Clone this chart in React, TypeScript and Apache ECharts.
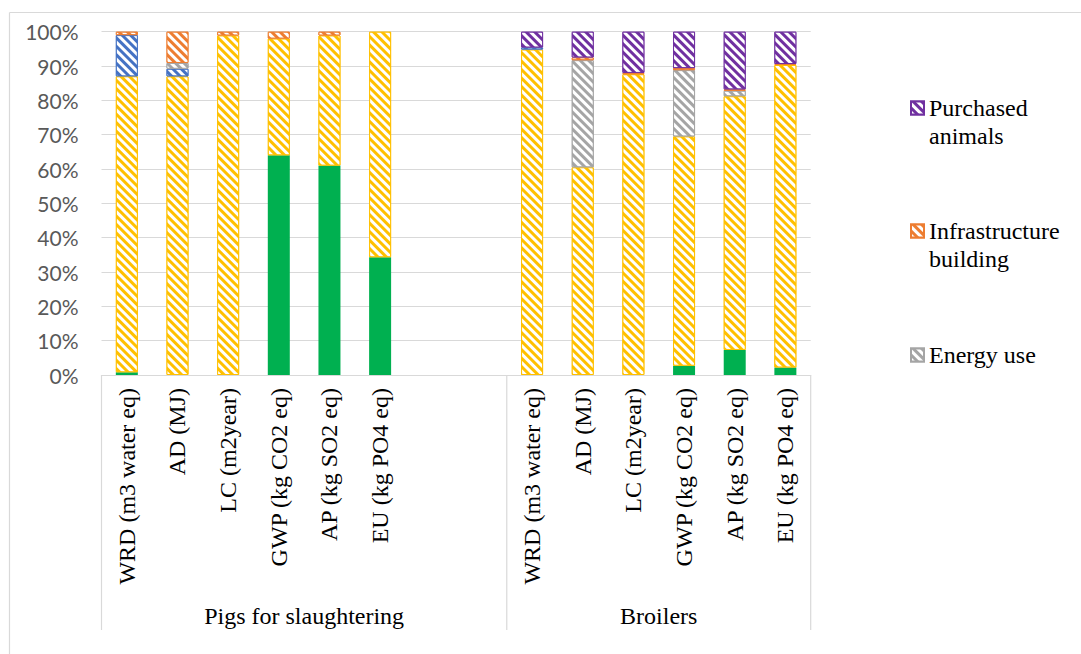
import React, { useEffect, useRef } from "react";
import * as echarts from "echarts";

const W = 1081;
const H = 654;

// Impact categories shown under each production system
const impactLabels = [
  "WRD (m3 water eq)",
  "AD (MJ)",
  "LC (m2year)",
  "GWP (kg CO2 eq)",
  "AP (kg SO2 eq)",
  "EU (kg PO4 eq)",
];
const groupNames = ["Pigs for slaughtering", "Broilers"];
const spacerSlots = 2; // empty slots closing the pig group

// Percent contributions, pig group then broiler group (bottom to top of stack)
const emissionsPigs = [0.8, 0, 0, 64, 61, 34.3];
const emissionsBroilers = [0, 0, 0, 2.7, 7.3, 2.2];
const feedPigs = [86.2, 87, 98.9, 34, 37.9, 65.7];
const feedBroilers = [94.8, 60.5, 87.6, 66.8, 73.9, 88.1];
const waterPigs = [12, 2.2, 0, 0, 0, 0];
const waterBroilers = [0.6, 0, 0, 0, 0, 0];
const energyPigs = [0, 1.7, 0, 0, 0, 0];
const energyBroilers = [0, 31.2, 0, 19.3, 1.6, 0];
const infraPigs = [1, 9.1, 1.1, 2, 1.1, 0];
const infraBroilers = [0, 0.8, 0.4, 0.6, 0.4, 0.3];
const animalsPigs = [0, 0, 0, 0, 0, 0];
const animalsBroilers = [4.6, 7.5, 12, 10.6, 16.8, 9.4];

const legendNames = ["Purchased animals", "Infrastructure building", "Energy use"];
// Wrapped legend labels; a leading blank line keeps the first line level with the swatch
const legendLines: Record<string, string> = {
  "Purchased animals": " \nPurchased\nanimals",
  "Infrastructure building": " \nInfrastructure\nbuilding",
  "Energy use": "Energy use",
};
const legendSwatchY = [108, 231, 355];

// Axis slots: pig categories, spacers, broiler categories
const slotLabels = [
  ...impactLabels,
  ...Array(spacerSlots).fill(""),
  ...impactLabels,
];
const pigSlots = impactLabels.length + spacerSlots;

const joinGroups = (pigs: number[], broilers: number[]) =>
  [...pigs, ...Array(spacerSlots).fill(0), ...broilers].map((v) => (v === 0 ? null : v));

// Plot geometry
const gridLeft = 101.5;
const gridRight = 810.7;
const gridTop = 31.7;
const axisY = 375;
const separatorBottom = 630;
const slotW = (gridRight - gridLeft) / slotLabels.length;

const SERIF = "Liberation Serif";
const GRID_GRAY = "#d9d9d9";
const LEGEND_LINE = 28;

const hatch = {
  symbol: "rect",
  symbolSize: 1,
  color: "#ffffff",
  dashArrayX: [1, 0],
  dashArrayY: [2.6, 2.6],
  rotation: Math.PI / 4,
};

function hatchedSeries(name: string, color: string, data: (number | null)[]) {
  return {
    name,
    type: "bar",
    stack: "share",
    barWidth: 22,
    data,
    itemStyle: {
      color,
      borderColor: color,
      borderWidth: 1,
      decal: hatch,
    },
  };
}

export default function App() {
  const ref = useRef<HTMLDivElement>(null);

  useEffect(() => {
    if (!ref.current) return;
    const chart = echarts.init(ref.current, undefined, { renderer: "svg" });

    const separators = [0, pigSlots, slotLabels.length].map((s) => ({
      type: "line",
      shape: {
        x1: gridLeft + s * slotW,
        y1: axisY,
        x2: gridLeft + s * slotW,
        y2: separatorBottom,
      },
      style: { stroke: GRID_GRAY, lineWidth: 1.2 },
      silent: true,
    }));

    const groupCenters = [
      gridLeft + (pigSlots * slotW) / 2,
      gridLeft + pigSlots * slotW + ((slotLabels.length - pigSlots) * slotW) / 2,
    ];
    const groupTexts = groupNames.map((name, i) => ({
      type: "text",
      x: groupCenters[i],
      y: 616,
      style: {
        text: name,
        font: `24px ${SERIF}`,
        fill: "#000000",
        align: "center",
        verticalAlign: "middle",
      },
      silent: true,
    }));

    const legends = legendNames.map((name, i) => {
      const lines = legendLines[name].split("\n").length;
      return {
        show: true,
        orient: "vertical",
        left: 910,
        top: legendSwatchY[i] - (lines * LEGEND_LINE) / 2,
        padding: 0,
        itemWidth: 13,
        itemHeight: 13,
        icon: "rect",
        data: [name],
        formatter: (n: string) => legendLines[n],
        textStyle: {
          fontFamily: SERIF,
          fontSize: 24,
          lineHeight: LEGEND_LINE,
          color: "#000000",
        },
        selectedMode: false,
      };
    });

    chart.setOption({
      animation: false,
      backgroundColor: "#ffffff",
      grid: {
        left: gridLeft,
        right: W - gridRight,
        top: gridTop,
        bottom: H - axisY,
        containLabel: false,
      },
      legend: legends,
      xAxis: {
        type: "category",
        data: slotLabels.map((_, i) => String(i)),
        axisLine: { lineStyle: { color: GRID_GRAY, width: 1.2 } },
        axisTick: { show: false },
        axisLabel: {
          interval: 0,
          rotate: 90,
          margin: 13,
          formatter: (v: string) => slotLabels[Number(v)],
          fontFamily: SERIF,
          fontSize: 24,
          color: "#000000",
        },
      },
      yAxis: {
        type: "value",
        min: 0,
        max: 100,
        interval: 10,
        axisLine: { show: false },
        axisTick: { show: false },
        splitLine: { lineStyle: { color: GRID_GRAY, width: 1.2 } },
        axisLabel: {
          formatter: "{value}%",
          margin: 23,
          fontFamily: "Lato",
          fontSize: 21,
          color: "#595959",
        },
      },
      series: [
        {
          name: "On-farm emissions",
          type: "bar",
          stack: "share",
          barWidth: 22,
          data: joinGroups(emissionsPigs, emissionsBroilers),
          itemStyle: { color: "#00b050" },
        },
        hatchedSeries("Feed production", "#ffc000", joinGroups(feedPigs, feedBroilers)),
        hatchedSeries("Water use", "#4472c4", joinGroups(waterPigs, waterBroilers)),
        hatchedSeries("Energy use", "#a5a5a5", joinGroups(energyPigs, energyBroilers)),
        hatchedSeries("Infrastructure building", "#ed7d31", joinGroups(infraPigs, infraBroilers)),
        hatchedSeries("Purchased animals", "#7030a0", joinGroups(animalsPigs, animalsBroilers)),
      ],
      graphic: [
        {
          type: "line",
          shape: { x1: 9.5, y1: 12.5, x2: W, y2: 12.5 },
          style: { stroke: GRID_GRAY, lineWidth: 1.2 },
          silent: true,
        },
        {
          type: "line",
          shape: { x1: 9.5, y1: 12.5, x2: 9.5, y2: H },
          style: { stroke: GRID_GRAY, lineWidth: 1.2 },
          silent: true,
        },
        ...separators,
        ...groupTexts,
      ],
    });

    return () => chart.dispose();
  }, []);

  return (
    <div
      ref={ref}
      style={{ position: "absolute", left: 0, top: 0, width: W, height: H, background: "#fff" }}
    />
  );
}
